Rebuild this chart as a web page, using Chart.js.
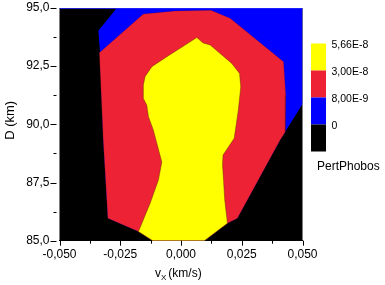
<!DOCTYPE html>
<html>
<head>
<meta charset="utf-8">
<script src="https://cdn.jsdelivr.net/npm/chart.js@4.4.1/dist/chart.umd.min.js"></script>
<style>
  html, body { margin: 0; padding: 0; background: #fff; }
  #chart { display: block; }
</style>
</head>
<body>
<canvas id="chart" width="385" height="285"></canvas>
<script>
// contour levels, lowest first
var levels = ['0', '8,00E-9', '3,00E-8', '5,66E-8'];
var levelColors = ['#000000', '#0000ff', '#ed2335', '#ffff00'];

var xTickLabels = ['-0,050', '-0,025', '0,000', '0,025', '0,050'];
var yTickLabels = ['85,0', '87,5', '90,0', '92,5', '95,0'];

// boundary of the 8,00E-9 region (vx, D)
var blueX = [-0.0264, 0.05, 0.05, 0.0408, 0.0232, 0.0191, 0.0096, -0.0116, -0.0175, -0.0301, -0.0320, -0.0333, -0.0340, -0.0264];
var blueY = [95, 95, 90.87, 89.33, 85.96, 85.75, 85, 85, 85.39, 85.96, 89.33, 93.07, 94.02, 95];

// boundary of the 3,00E-8 region
var redX = [-0.0336, -0.0155, -0.0024, 0.0123, 0.0202, 0.0422, 0.0431, 0.0429, 0.0408, 0.0232, 0.0191, 0.0096, -0.0116, -0.0175, -0.0301, -0.0320, -0.0336];
var redY = [93.08, 94.74, 94.87, 94.90, 94.56, 92.69, 91.26, 89.67, 89.33, 85.96, 85.75, 85, 85, 85.39, 85.96, 89.33, 93.08];

// boundary of the 5,66E-8 region
var yellowX = [0.0065, 0.0091, 0.0120, 0.0209, 0.0241, 0.0246, 0.0236, 0.0219, 0.0173, 0.0171, 0.0175, 0.0180, 0.0191, 0.0096, -0.0116, -0.0175, -0.0127, -0.0093, -0.0079, -0.0114, -0.0134, -0.0141, -0.0156, -0.0155, -0.0148, -0.0120, -0.0058, 0.0017, 0.0065];
var yellowY = [93.73, 93.50, 93.41, 92.62, 92.19, 91.61, 90.62, 89.40, 88.68, 88.25, 87.61, 86.75, 85.75, 85, 85, 85.39, 86.61, 87.61, 88.38, 89.76, 90.33, 90.83, 91.13, 91.69, 92.05, 92.48, 92.91, 93.41, 93.73];

function zip(xs, ys) {
  return xs.map(function (x, i) { return { x: x, y: ys[i] }; });
}

var FONT = '"Liberation Sans", Arial, sans-serif';
Chart.defaults.font.family = FONT;
Chart.defaults.font.size = 12;
Chart.defaults.color = '#000';

var contourDecor = {
  id: 'contourDecor',
  beforeDatasetsDraw: function (chart) {
    var a = chart.chartArea, ctx = chart.ctx;
    ctx.save();
    ctx.fillStyle = levelColors[0];
    ctx.fillRect(a.left, a.top, a.right - a.left, a.bottom - a.top);
    ctx.restore();
  },
  afterDraw: function (chart) {
    var ctx = chart.ctx, a = chart.chartArea;
    var xs = chart.scales.x, ys = chart.scales.y;
    ctx.save();
    // thin bluish edge along the top of the plot
    ctx.strokeStyle = 'rgba(40,40,255,0.8)';
    ctx.lineWidth = 1;
    ctx.beginPath();
    ctx.moveTo(a.left, Math.round(a.top) + 0.5);
    ctx.lineTo(a.right, Math.round(a.top) + 0.5);
    ctx.stroke();

    ctx.strokeStyle = '#000';
    ctx.beginPath();
    // x ticks, major + minor
    xs.ticks.forEach(function (t, i) {
      var px = Math.round(xs.getPixelForValue(t.value)) + 0.5;
      ctx.moveTo(px, a.bottom); ctx.lineTo(px, a.bottom + 5);
      if (i < xs.ticks.length - 1) {
        var pm = Math.round(xs.getPixelForValue((t.value + xs.ticks[i + 1].value) / 2)) + 0.5;
        ctx.moveTo(pm, a.bottom); ctx.lineTo(pm, a.bottom + 3);
      }
    });
    // y ticks, set off a little from the plot
    ys.ticks.forEach(function (t, i) {
      var py = Math.round(ys.getPixelForValue(t.value)) + 0.5;
      ctx.moveTo(a.left - 9, py); ctx.lineTo(a.left - 3, py);
      if (i < ys.ticks.length - 1) {
        var pm = Math.round(ys.getPixelForValue((t.value + ys.ticks[i + 1].value) / 2)) + 0.5;
        ctx.moveTo(a.left - 6, pm); ctx.lineTo(a.left - 3, pm);
      }
    });
    ctx.stroke();

    ctx.fillStyle = '#000';
    // y title
    ctx.save();
    ctx.translate(10, (a.top + a.bottom) / 2 - 4);
    ctx.rotate(-Math.PI / 2);
    ctx.font = '13px ' + FONT;
    ctx.textAlign = 'center';
    ctx.textBaseline = 'middle';
    ctx.fillText('D (km)', 0, 0);
    ctx.restore();

    // x title with subscript
    ctx.textAlign = 'left';
    ctx.textBaseline = 'alphabetic';
    var tx = 155, ty = 277;
    ctx.font = '12px ' + FONT;
    ctx.fillText('v', tx, ty);
    tx += ctx.measureText('v').width;
    ctx.font = '8px ' + FONT;
    ctx.fillText('X', tx, ty + 3);
    tx += ctx.measureText('X').width + 2;
    ctx.font = '12px ' + FONT;
    ctx.fillText('(km/s)', tx, ty);

    // colour scale legend
    var bx = 311, bw = 15, top = 43.5, bh = 27;
    for (var i = 0; i < levels.length; i++) {
      var k = levels.length - 1 - i;
      ctx.fillStyle = levelColors[k];
      ctx.fillRect(bx, top + i * bh, bw, bh);
      ctx.fillStyle = '#000';
      ctx.font = '10.5px ' + FONT;
      ctx.textBaseline = 'middle';
      ctx.fillText(levels[k], 331.5, top + 1.5 + i * bh);
    }
    ctx.font = '12px ' + FONT;
    ctx.textBaseline = 'alphabetic';
    ctx.fillText('PertPhobos', 317, 169.5);
    ctx.restore();
  }
};

function polygon(label, xs, ys, color, border, bw) {
  return {
    label: label,
    data: zip(xs, ys),
    showLine: true,
    fill: 'shape',
    backgroundColor: color,
    borderColor: border,
    borderWidth: bw,
    pointRadius: 0,
    tension: 0
  };
}

var chart = new Chart(document.getElementById('chart'), {
  type: 'scatter',
  data: {
    datasets: [
      polygon(levels[3], yellowX, yellowY, levelColors[3], 'rgba(110,50,0,0.8)', 0.6),
      polygon(levels[2], redX, redY, levelColors[2], 'rgba(90,0,0,0.4)', 0.5),
      polygon(levels[1], blueX, blueY, levelColors[1], levelColors[1], 0)
    ]
  },
  options: {
    animation: false,
    responsive: false,
    devicePixelRatio: 1,
    layout: { padding: { left: 0, right: 82.5, top: 0, bottom: 0 } },
    plugins: {
      legend: { display: false },
      tooltip: { enabled: false }
    },
    scales: {
      x: {
        type: 'linear',
        min: -0.05,
        max: 0.05,
        grid: { display: false, drawTicks: false },
        border: { display: true, color: '#000', width: 1 },
        ticks: {
          stepSize: 0.025,
          padding: 7,
          maxRotation: 0,
          callback: function (v, i) { return xTickLabels[i]; }
        },
        afterFit: function (s) { s.height = 44.3; }
      },
      y: {
        type: 'linear',
        min: 85,
        max: 95,
        grid: { display: false, drawTicks: false },
        border: { display: false },
        ticks: {
          stepSize: 2.5,
          padding: 10,
          callback: function (v, i) { return yTickLabels[i]; }
        },
        afterFit: function (s) {
          s.width = 59.5;
          s.paddingTop = 8;
          s.paddingBottom = 0;
        }
      }
    }
  },
  plugins: [contourDecor]
});
</script>
</body>
</html>
